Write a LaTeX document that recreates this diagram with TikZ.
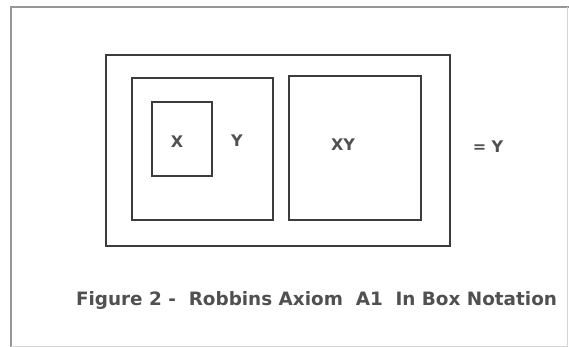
\documentclass[tikz,border=0pt]{standalone}
\usepackage{fontspec}
\setmainfont{DejaVu Sans}
\usepackage{tikz}
\usetikzlibrary{positioning}
\definecolor{inkgray}{RGB}{60,60,60}
\definecolor{framegray}{RGB}{150,150,150}

\begin{document}
\begin{tikzpicture}[
  x=1pt, y=-1pt,
  box/.style={rectangle, draw=inkgray, line width=#1, inner sep=0pt, outer sep=0pt},
  box/.default=1.8pt,
  lbl/.style={font=\fontsize{16}{19}\selectfont\bfseries, text=inkgray!90, inner sep=0pt}
]
  \useasboundingbox (0,0) rectangle (569,347);
  % page frame
  \draw[framegray, line width=2.5pt] (11,347) -- (11,7) -- (569,7);
  \draw[framegray!40, line width=1pt] (567,7) -- (567,346) -- (11,346);

  \node[box, minimum width=344pt, minimum height=191pt] (outer) at (278,150.5) {};
  \node[box, minimum width=141pt, minimum height=142pt] (left) at (202.5,149) {};
  \node[box=1.3pt, minimum width=60pt, minimum height=74pt] (inner) at (182,139) {};
  \node[box, minimum width=132pt, minimum height=144pt] (right) at (355,148) {};

  \node[lbl] (x) at (177,142) {X};
  \node[lbl] (y) at (237,141) {Y};
  \node[lbl] (xy) at (343,145) {XY};
  \node[lbl] (eqy) at (488,147) {=\,\,Y};

  \node[lbl, font=\fontsize{18.4}{21}\selectfont\bfseries] (caption) at (316.5,300) {Figure 2 -\ \ Robbins Axiom\ \ A1\ \ In Box Notation};
\end{tikzpicture}
\end{document}
